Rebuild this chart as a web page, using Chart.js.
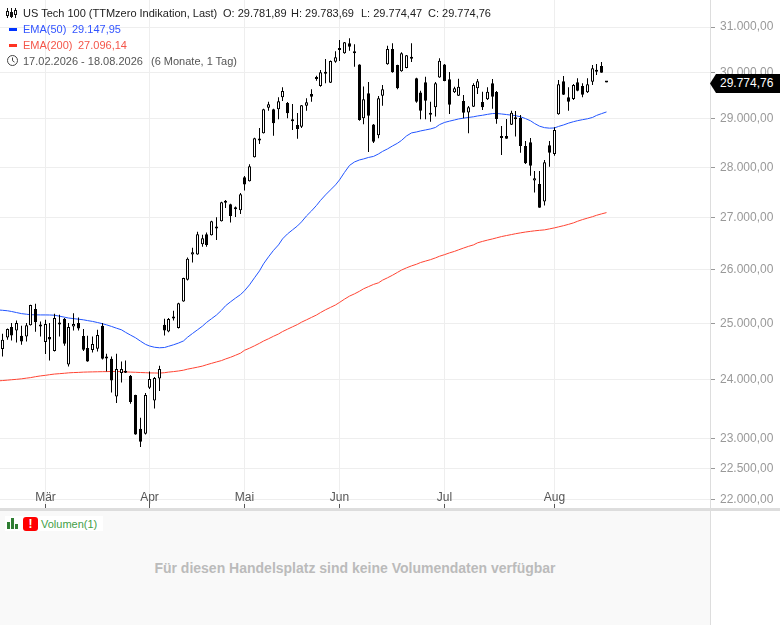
<!DOCTYPE html>
<html lang="de">
<head>
<meta charset="utf-8">
<title>US Tech 100</title>
<script src="https://cdn.jsdelivr.net/npm/chart.js@4"></script>
<style>
html,body{margin:0;padding:0;background:#fff;width:780px;height:625px;overflow:hidden;font-family:"Liberation Sans",Arial,sans-serif;font-size:11px}
#wrap{position:relative;width:780px;height:625px;overflow:hidden}
#c{position:absolute;left:0;top:0}
.t{position:absolute;white-space:pre;line-height:14px;height:14px}
.dash{position:absolute;width:8px;height:3px;left:9px}
#band{position:absolute;left:0;top:508px;width:780px;height:3px;background:#ddd}
#panel{position:absolute;left:0;top:511px;width:710px;height:114px;background:#f9f9f9;border-right:1px solid #ddd}
#nodata{position:absolute;left:0;width:710px;top:560px;text-align:center;font-weight:bold;font-size:14px;line-height:16px;color:#bbb}
#vbox{position:absolute;left:5px;top:516px;width:98px;height:15px;background:#fff}
#tag{position:absolute;left:710px;top:74px;width:70px;height:19px;background:#000;color:#fff;clip-path:polygon(0 50%,6px 0,100% 0,100% 100%,6px 100%);line-height:19px;text-indent:10px;font-size:12px}
#warn{position:absolute;left:23px;top:517px;width:15px;height:14px;background:#f00;border-radius:3px;color:#fff;font-weight:bold;font-size:12px;line-height:14px;text-align:center}
</style>
</head>
<body>
<div id="wrap">
<div id="panel"></div>
<div id="vbox"></div>
<canvas id="c" width="780" height="508" style="width:780px;height:508px"></canvas>
<div id="band"></div>

<svg style="position:absolute;left:6px;top:8px" width="11" height="10" viewBox="0 0 11 10" fill="none" stroke="#111" stroke-width="1">
<path d="M1.5 0v10M5.5 0v10M9.5 0v10"/><rect x="0.5" y="3.5" width="2" height="4" fill="#fff"/><rect x="4.5" y="4.5" width="2" height="4" fill="#111"/><rect x="8.5" y="2.5" width="2" height="4" fill="#fff"/>
</svg>
<div class="t" style="left:23px;top:6px;color:#222">US Tech 100 (TTMzero Indikation, Last)</div>
<div class="t" style="left:223px;top:6px;color:#222">O: 29.781,89</div>
<div class="t" style="left:291px;top:6px;color:#222">H: 29.783,69</div>
<div class="t" style="left:361px;top:6px;color:#222">L: 29.774,47</div>
<div class="t" style="left:428px;top:6px;color:#222">C: 29.774,76</div>

<div class="dash" style="top:28px;background:#0033ff"></div>
<div class="t" style="left:23px;top:22px;color:#3355ff">EMA(50)</div>
<div class="t" style="left:72px;top:22px;color:#3355ff">29.147,95</div>

<div class="dash" style="top:44px;background:#ff3322"></div>
<div class="t" style="left:23px;top:38px;color:#f4564a">EMA(200)</div>
<div class="t" style="left:78px;top:38px;color:#f4564a">27.096,14</div>

<svg style="position:absolute;left:7px;top:55px" width="11" height="11" viewBox="0 0 11 11" fill="none" stroke="#444" stroke-width="1">
<circle cx="5.5" cy="5.5" r="5"/><path d="M5.5 2.5v3.2l2 1.4"/>
</svg>
<div class="t" style="left:23px;top:54px;color:#555">17.02.2026 - 18.08.2026</div>
<div class="t" style="left:151px;top:54px;color:#555">(6 Monate, 1 Tag)</div>

<div id="tag">29.774,76</div>

<svg style="position:absolute;left:7px;top:518px" width="12" height="11" viewBox="0 0 12 11" fill="#2e7d32"><rect x="0" y="4" width="3" height="7"/><rect x="4" y="0" width="3" height="11"/><rect x="8" y="6" width="3" height="5"/></svg>
<div id="warn">!</div>
<div class="t" style="left:41px;top:517px;color:#43a047">Volumen(1)</div>
<div id="nodata">Für diesen Handelsplatz sind keine Volumendaten verfügbar</div>
</div>

<script>
const opens = [24542,24750,24937,24875,24781,24768,24972,25265,24978,24668,24758,24507,25014,25087,24270,24947,25009,24775,24560,24525,
24548,24960,24406,24371,23714,24119,24147,24073,23738,23166,23082,23864,23645,24026,24978,24857,25118,24919,25404,25807,
26285,26285,26483,26675,26656,26811,26928,27290,27262,27194,27143,27800,27720,28206,28576,28701,29239,29205,29205,29460,
29338,28979,28875,28839,29281,29530,29890,29701,30004,29773,30230,30509,30414,30635,30443,30167,29015,29545,28885,28660,
29494,30172,30509,30156,30020,30092,30326,29868,29560,29782,29120,29247,29885,30167,29846,29567,29494,29381,29137,29260,
29653,29360,29417,29760,29574,28624,28645,28881,29021,29021,28439,28515,27732,27666,27313,28453,28274,29099,29803,29460,
29423,29782,29702,29567,29792,30048,30136,29781.89];
const highs = [24816,24910,25009,25056,24960,25009,25345,25362,25038,25069,25009,25179,25160,25100,25009,25191,25111,24901,24781,24768,
24888,25009,24459,24411,24459,24323,24341,24085,23745,23351,23772,24147,24050,24247,25087,25100,25233,25380,25845,26226,
26412,26720,26662,26706,26935,27006,27310,27347,27270,27214,27486,27826,28063,28605,28812,29215,29366,29215,29460,29674,
29360,29317,29127,29295,29438,29631,29925,30048,30289,30255,30458,30709,30665,30749,30614,30175,29690,29786,28892,29488,
29724,30582,30635,30165,30436,30378,30635,29878,29601,29900,29366,29788,30304,30180,30007,29688,29858,29509,29274,29760,
29853,29580,29674,29853,29595,28853,29000,29175,29169,29084,28541,28604,27928,27928,28151,28541,28826,29831,29918,29674,
29745,29868,29760,29868,30156,30180,30223,29783.69];
const lows = [24411,24709,24696,24661,24620,24678,24965,24852,24768,24454,24341,24500,24768,24602,24235,24875,24875,24507,24318,24482,
24500,24358,24147,23783,23600,23956,24119,23589,23065,22861,23070,23841,23509,23807,24786,24846,25056,24910,25398,25794,
26132,26280,26431,26431,26650,26565,26920,27188,26900,27012,27071,27532,27712,28200,28480,28695,29175,28651,28994,29381,
29015,28770,28589,28812,29175,29366,29816,29686,29760,29765,30208,30245,30405,30472,30120,28965,28890,28315,28500,28597,
29281,30165,29990,29631,30011,30085,30223,29345,28994,28994,28943,29050,29878,29805,29105,29552,29488,29015,28701,29255,
29530,29190,29402,29218,28902,28253,28585,28875,28631,28300,28070,27832,27492,27190,27234,28014,28239,29091,29509,29175,
29402,29588,29460,29552,29724,29940,29990,29774.47];
const closes = [24709,24901,24786,25009,24678,24972,25338,25027,24947,24991,24714,25100,24983,24638,24937,24991,24911,24530,24323,24632,
24793,24371,24376,23991,24189,24189,24125,23617,23070,22949,23738,24015,24033,24189,24875,25082,25093,25372,25839,26202,
26330,26675,26598,26469,26928,26784,27301,27320,27031,27163,27460,27652,28023,28597,28548,29205,29311,28910,29375,29594,
29120,28952,28791,29289,29353,29472,29853,29998,29967,30245,30326,30487,30658,30560,30414,28979,29417,29070,28527,29438,
29631,30509,29998,29653,30414,30370,30296,29366,29175,29387,29091,29760,30252,29810,29303,29653,29688,29133,29247,29724,
29803,29247,29580,29473,29000,28604,28589,29133,28994,28439,28083,28035,27780,27194,28104,28300,28770,29738,29516,29366,
29724,29601,29516,29738,30085,30011,29990,29774.76];
const ema50 = [25243,25234,25221,25201,25182,25171,25162,25160,25158,25158,25157,25153,25135,25117,25102,25091,25080,25069,25055,25040,
25020,24998,24978,24949,24917,24888,24843,24793,24745,24684,24627,24598,24575,24566,24571,24592,24619,24650,24688,24754,
24822,24888,24955,25021,25089,25157,25243,25325,25398,25467,25532,25602,25713,25845,25975,26107,26240,26364,26469,26584,
26681,26759,26836,26914,27031,27129,27238,27337,27446,27546,27646,27746,27898,28039,28110,28151,28171,28202,28223,28274,
28325,28377,28438,28494,28552,28645,28708,28728,28749,28770,28791,28822,28881,28927,28954,28979,29000,29017,29032,29046,
29063,29078,29097,29114,29116,29105,29093,29080,29070,29046,29008,28962,28906,28849,28818,28807,28812,28843,28874,28912,
28943,28964,28985,29004,29032,29074,29112,29147.95];
const ema200 = [23989,23996,24003,24010,24019,24031,24040,24056,24070,24080,24091,24102,24109,24116,24123,24128,24131,24136,24138,24140,
24142,24144,24145,24147,24147,24144,24140,24136,24133,24129,24126,24122,24121,24119,24126,24136,24145,24156,24170,24188,
24205,24223,24242,24265,24290,24315,24339,24367,24397,24433,24470,24521,24558,24601,24646,24686,24727,24772,24813,24856,
24899,24942,24984,25026,25069,25113,25157,25201,25252,25296,25341,25387,25448,25504,25546,25594,25639,25680,25721,25751,
25800,25845,25893,25947,25990,26032,26069,26100,26132,26160,26187,26221,26252,26282,26316,26345,26374,26408,26441,26469,
26508,26536,26561,26584,26604,26629,26649,26668,26684,26701,26717,26730,26740,26750,26759,26778,26798,26817,26840,26866,
26895,26926,26959,26988,27016,27043,27071,27096.14];
const ema50Before = 25250;
const ema200Before = 23982;
const monthLabels = ['Mär','Apr','Mai','Jun','Jul','Aug'];
const monthIndex = [9,31,51,71,93,116];
const priceTicks = [22000,22500,23000,24000,25000,26000,27000,28000,29000,30000,31000];

const xy = (a,f)=>a.map((v,i)=>({x:i,y:f(v,i)}));
const lineData = (a,before)=>[{x:-1,y:before}].concat(xy(a,v=>v));
const fmt = v => v.toLocaleString('de-DE',{minimumFractionDigits:2,maximumFractionDigits:2});

new Chart(document.getElementById('c'),{
  type:'bar',
  data:{datasets:[
    {type:'line',label:'EMA(200)',data:lineData(ema200,ema200Before),borderColor:'#ff4433',borderWidth:1,pointRadius:0,tension:0,order:3},
    {type:'line',label:'EMA(50)',data:lineData(ema50,ema50Before),borderColor:'#2255ff',borderWidth:1,pointRadius:0,tension:0,order:3},
    {label:'Docht',data:xy(lows,(v,i)=>[v,highs[i]]),backgroundColor:'#000',borderWidth:0,barThickness:1,grouped:false,inflateAmount:0,order:2},
    {label:'Kerze',data:xy(opens,(v,i)=>[v,closes[i]]),
      backgroundColor:c=>closes[c.dataIndex]>=opens[c.dataIndex]?'#fff':'#000',
      borderColor:'#000',borderWidth:1,borderSkipped:false,barThickness:3,minBarLength:2,grouped:false,inflateAmount:0,order:1}
  ]},
  options:{
    responsive:false,animation:false,devicePixelRatio:1,
    layout:{padding:0},
    plugins:{legend:{display:false},tooltip:{enabled:false}},
    events:[],
    scales:{
      x:{type:'linear',offset:false,min:-0.49,max:148.8,bounds:'data',
        afterFit(s){s.height=0;s.paddingLeft=0;s.paddingRight=0;s.paddingTop=0;s.paddingBottom=0;},
        afterDataLimits(s){
          if(!s._snapped){const o=s.getPixelForValue;s.getPixelForValue=function(v){return Math.floor(o.call(this,v))+0.5;};s._snapped=true;}
        },
        afterBuildTicks(s){s.ticks=monthIndex.map(v=>({value:v}));},
        grid:{offset:false,color:'#eeeeee',lineWidth:1,tickLength:-4,tickColor:'#555555',drawTicks:true},
        border:{display:false},
        ticks:{mirror:true,padding:3,autoSkip:false,maxRotation:0,color:'#555555',font:{family:'"Liberation Sans"',size:12},
          callback:v=>monthLabels[monthIndex.indexOf(v)]}
      },
      y:{type:'logarithmic',position:'right',min:21871,max:31613,bounds:'data',
        afterFit(s){s.width=70;s.paddingLeft=0;s.paddingRight=0;s.paddingTop=0;s.paddingBottom=0;},
        afterBuildTicks(s){s.ticks=priceTicks.map(v=>({value:v}));},
        grid:{color:'#eeeeee',lineWidth:1,tickLength:5,tickColor:'#999999'},
        border:{display:true,color:'#dddddd'},
        ticks:{padding:5,autoSkip:false,color:'#999999',font:{family:'"Liberation Sans"',size:12},callback:v=>fmt(v)}
      }
    }
  }
});
</script>
</body>
</html>
